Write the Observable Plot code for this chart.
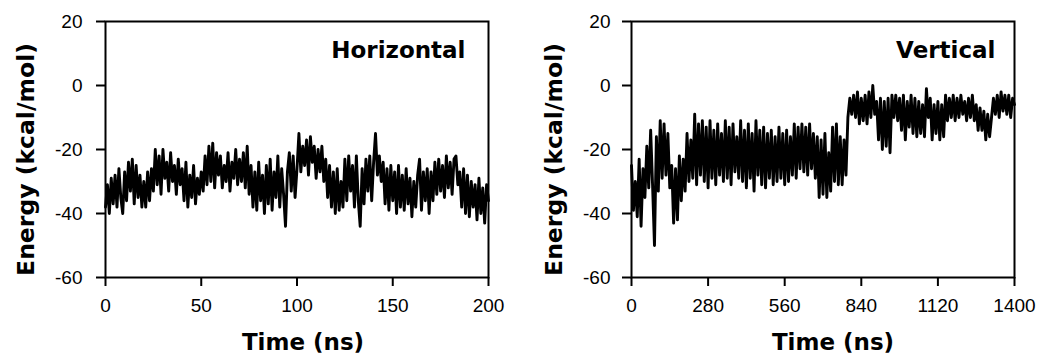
<!DOCTYPE html>
<html><head><meta charset="utf-8">
<script src="https://cdn.jsdelivr.net/npm/d3@7"></script>
<script src="https://cdn.jsdelivr.net/npm/@observablehq/plot@0.6"></script>
<style>
body{margin:0;background:#fff;}
#wrap{display:flex;width:1040px;height:358px;}
</style></head><body><div id="wrap"></div>
<script>
// Horizontal run: one sample per ns (0..200 ns)
const hStep = 1;
const hEnergy = [
  -38, -31, -40, -29, -37, -28, -38, -26, -35, -40,
  -27, -36, -24, -33, -23, -37, -25, -35, -28, -38,
  -30, -38, -27, -36, -26, -33, -20, -31, -22, -34,
  -20, -29, -24, -33, -21, -30, -25, -34, -23, -31,
  -26, -36, -24, -38, -28, -35, -25, -37, -29, -34,
  -27, -33, -22, -31, -19, -30, -18, -32, -21, -28,
  -22, -32, -25, -30, -21, -33, -24, -29, -20, -31,
  -23, -30, -21, -32, -19, -34, -25, -38, -27, -39,
  -24, -36, -28, -40, -25, -37, -23, -39, -27, -35,
  -22, -38, -26, -34, -44, -27, -21, -33, -22, -35,
  -26, -15, -27, -19, -25, -17, -28, -16, -24, -19,
  -29, -20, -27, -19, -30, -23, -35, -25, -38, -27,
  -40, -26, -39, -30, -38, -23, -36, -22, -33, -25,
  -38, -22, -36, -44, -26, -37, -23, -33, -22, -36,
  -24, -15, -28, -22, -30, -24, -37, -26, -39, -25,
  -36, -27, -40, -25, -38, -28, -39, -26, -37, -29,
  -41, -30, -38, -28, -23, -39, -27, -36, -26, -40,
  -27, -36, -24, -34, -23, -33, -25, -35, -22, -32,
  -24, -34, -23, -22, -31, -27, -38, -26, -40, -28,
  -41, -30, -38, -31, -42, -29, -40, -32, -43, -31, -36
];
// Vertical run: one sample every 7 ns (0..1400 ns)
const vStep = 7;
const vEnergy = [
  -25, -39, -30, -41, -23, -44, -26, -35, -19, -32,
  -14, -31, -50, -16, -33, -11, -29, -12, -28, -15,
  -32, -25, -43, -26, -42, -22, -36, -23, -33, -15,
  -30, -17, -29, -9, -31, -12, -28, -11, -30, -13,
  -32, -11, -29, -14, -31, -12, -28, -15, -30, -11,
  -29, -13, -31, -12, -27, -16, -29, -11, -30, -14,
  -32, -12, -29, -15, -33, -11, -28, -14, -31, -13,
  -32, -15, -29, -14, -31, -16, -30, -13, -29, -15,
  -31, -14, -30, -16, -28, -12, -29, -13, -26, -12,
  -27, -13, -28, -12, -26, -15, -29, -16, -35, -17,
  -34, -15, -35, -21, -33, -13, -30, -12, -31, -16,
  -31, -17, -28, -10, -4, -9, -3, -10, -2, -12,
  -4, -11, -3, -12, -2, -10, 0, -9, -5, -17,
  -4, -20, -5, -19, -4, -21, -3, -10, -3, -11,
  -4, -14, -3, -17, -5, -13, -3, -15, -4, -16,
  -5, -15, -6, -16, -1, -10, -4, -17, -6, -15,
  -5, -17, -6, -16, -3, -11, -4, -10, -3, -11,
  -4, -10, -3, -9, -5, -11, -4, -10, -3, -11,
  -6, -14, -7, -14, -8, -17, -9, -16, -10, -4,
  -9, -3, -10, -2, -8, -3, -9, -3, -10, -4, -6
];
const hTicks = [0, 50, 100, 150, 200];
const vTicks = [0, 280, 560, 840, 1120, 1400];
const yTicks = [-60, -40, -20, 0, 20];
const panelTitles = ["Horizontal", "Vertical"];
const xLabel = "Time (ns)";
const yLabel = "Energy (kcal/mol)";

const tickFont = "'Liberation Sans', Arial, sans-serif";
const boldFont = "'DejaVu Sans', sans-serif";

function panel({values, step, ticks, title, ml, mr, padY, titleDx, xLabelDx, yLabelDx}) {
  const data = values.map((v, i) => ({t: i * step, e: v}));
  return Plot.plot({
    width: 520, height: 358,
    marginLeft: ml, marginRight: mr, marginTop: 21, marginBottom: 81,
    style: {fontFamily: tickFont, color: "#000", background: "#fff", overflow: "visible"},
    x: {domain: [ticks[0], ticks[ticks.length - 1]]},
    y: {domain: [yTicks[0], yTicks[yTicks.length - 1]]},
    marks: [
      Plot.line(data, {x: "t", y: "e", stroke: "#000", strokeWidth: 2.9}),
      Plot.frame({stroke: "#000", strokeWidth: 2}),
      Plot.axisX(ticks, {tickSize: 9, tickPadding: 12, fontSize: 19, fontFamily: tickFont, strokeWidth: 2,
        tickFormat: d => String(d), label: null}),
      Plot.axisY(yTicks, {tickSize: 9, tickPadding: padY, fontSize: 19, fontFamily: tickFont, strokeWidth: 2,
        tickFormat: d => String(d), label: null}),
      Plot.text([title], {frameAnchor: "top-right", textAnchor: "end", lineAnchor: "bottom", dx: titleDx, dy: 36,
        fontSize: 23, fontWeight: "bold", fontFamily: boldFont}),
      Plot.text([xLabel], {frameAnchor: "bottom", textAnchor: "middle", lineAnchor: "bottom", dx: xLabelDx, dy: 72,
        fontSize: 23, fontWeight: "bold", fontFamily: boldFont}),
      Plot.text([yLabel], {frameAnchor: "left", textAnchor: "middle", rotate: -90, lineAnchor: "bottom", dx: yLabelDx, dy: 10,
        fontSize: 23.5, fontWeight: "bold", fontFamily: boldFont})
    ]
  });
}

const wrap = document.getElementById("wrap");
wrap.append(panel({values: hEnergy, step: hStep, ticks: hTicks, title: panelTitles[0],
  ml: 105, mr: 32, padY: 14, titleDx: -23, xLabelDx: 6, yLabelDx: -72}));
wrap.append(panel({values: vEnergy, step: vStep, ticks: vTicks, title: panelTitles[1],
  ml: 111, mr: 26, padY: 12, titleDx: -19, xLabelDx: 10, yLabelDx: -70}));
</script></body></html>
